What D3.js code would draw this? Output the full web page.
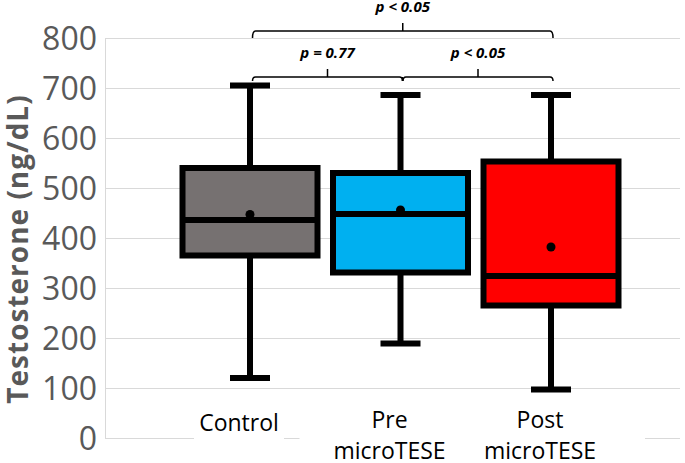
<!DOCTYPE html>
<html>
<head>
<meta charset="utf-8">
<script src="https://cdn.jsdelivr.net/npm/d3@7"></script>
<style>
  body { margin: 0; background: #fff; }
  svg { display: block; font-family: "Open Sans", sans-serif; }
</style>
</head>
<body>
<div id="chart"></div>
<script>
// 数据
const categories = ["Control", "Pre microTESE", "Post microTESE"];
const labelLines = [["Control"], ["Pre", "microTESE"], ["Post", "microTESE"]];
const whiskerLow = [121, 190, 98];
const q1 = [366, 332, 266];
const median = [437, 449, 325];
const q3 = [541, 531, 554];
const whiskerHigh = [706, 687, 687];
const mean = [448, 457, 383];
const colors = ["#767171", "#00B0F0", "#FF0000"];
const yTicks = [0, 100, 200, 300, 400, 500, 600, 700, 800];

// 比较括号
const comparisons = [
  { a: "Control", b: "Pre microTESE", p: "p = 0.77", level: 0 },
  { a: "Pre microTESE", b: "Post microTESE", p: "p < 0.05", level: 0 },
  { a: "Control", b: "Post microTESE", p: "p < 0.05", level: 1 }
];

const width = 685;
const height = 463;
const plotLeft = 105, plotRight = 680;

const svg = d3.select("#chart")
  .append("svg")
  .attr("width", width)
  .attr("height", height);

const x = d3.scalePoint()
  .domain(categories)
  .range([250, 551]);

const y = d3.scaleLinear()
  .domain([0, 800])
  .range([438.5, 38.5]);

// 网格线
svg.append("g")
  .selectAll("line")
  .data(yTicks)
  .enter()
  .append("line")
  .attr("x1", plotLeft)
  .attr("x2", plotRight)
  .attr("y1", d => y(d))
  .attr("y2", d => y(d))
  .attr("stroke", "#d9d9d9")
  .attr("stroke-width", 1);

svg.append("line")
  .attr("x1", plotLeft + 0.5)
  .attr("x2", plotLeft + 0.5)
  .attr("y1", y(800))
  .attr("y2", y(0))
  .attr("stroke", "#d9d9d9");

// Y轴刻度标签
svg.append("g")
  .selectAll("text")
  .data(yTicks)
  .enter()
  .append("text")
  .attr("x", 97)
  .attr("y", d => y(d))
  .attr("dy", "0.36em")
  .attr("text-anchor", "end")
  .attr("fill", "#595959")
  .attr("font-size", 32)
  .text(d => d);

// Y轴标题
svg.append("text")
  .attr("transform", "translate(28,249) rotate(-90)")
  .attr("text-anchor", "middle")
  .attr("fill", "#595959")
  .attr("font-size", 28)
  .attr("font-weight", "bold")
  .attr("letter-spacing", 1)
  .text("Testosterone (ng/dL)");

// X轴类别标签 (白色背景遮住底线)
const labelBoxW = [90, 180, 210];
svg.append("g")
  .selectAll("rect")
  .data(categories)
  .enter()
  .append("rect")
  .attr("x", (d, i) => x(d) - 11 - labelBoxW[i] / 2)
  .attr("y", 410)
  .attr("width", (d, i) => labelBoxW[i])
  .attr("height", 53)
  .attr("fill", "#fff");

const labelG = svg.append("g")
  .selectAll("g")
  .data(categories)
  .enter()
  .append("g")
  .attr("transform", d => "translate(" + (x(d) - 11) + ",0)");

labelG.each(function (d, i) {
  const lines = labelLines[i];
  d3.select(this).selectAll("text")
    .data(lines)
    .enter()
    .append("text")
    .attr("x", 0)
    .attr("y", (l, j) => (lines.length === 1 ? 431 : 428) + j * 31)
    .attr("text-anchor", "middle")
    .attr("fill", "#000")
    .attr("font-size", 23)
    .text(l => l);
});

// 箱线图
const boxW = 135;
const capW = 40;
const idx = categories.map((c, i) => i);
const boxes = svg.append("g")
  .selectAll("g")
  .data(idx)
  .enter()
  .append("g");

// 须
boxes.append("line")
  .attr("x1", i => x(categories[i]))
  .attr("x2", i => x(categories[i]))
  .attr("y1", i => y(whiskerHigh[i]))
  .attr("y2", i => y(whiskerLow[i]))
  .attr("stroke", "#000")
  .attr("stroke-width", 6);

boxes.selectAll(".cap")
  .data(i => [[i, whiskerHigh[i]], [i, whiskerLow[i]]])
  .enter()
  .append("line")
  .attr("x1", d => x(categories[d[0]]) - capW / 2)
  .attr("x2", d => x(categories[d[0]]) + capW / 2)
  .attr("y1", d => y(d[1]))
  .attr("y2", d => y(d[1]))
  .attr("stroke", "#000")
  .attr("stroke-width", 6);

// 箱体
boxes.append("rect")
  .attr("x", i => x(categories[i]) - boxW / 2)
  .attr("y", i => y(q3[i]))
  .attr("width", boxW)
  .attr("height", i => y(q1[i]) - y(q3[i]))
  .attr("fill", i => colors[i])
  .attr("stroke", "#000")
  .attr("stroke-width", 6);

// 中位数
boxes.append("line")
  .attr("x1", i => x(categories[i]) - boxW / 2)
  .attr("x2", i => x(categories[i]) + boxW / 2)
  .attr("y1", i => y(median[i]))
  .attr("y2", i => y(median[i]))
  .attr("stroke", "#000")
  .attr("stroke-width", 6);

// 均值点
boxes.append("circle")
  .attr("cx", i => x(categories[i]))
  .attr("cy", i => y(mean[i]))
  .attr("r", 4.5)
  .attr("fill", "#000");

// 显著性括号
const levelY = [77, 31];
const bracketG = svg.append("g")
  .attr("fill", "none")
  .attr("stroke", "#000")
  .attr("stroke-width", 1.5);

comparisons.forEach(c => {
  const x1 = x(c.a) + 2.5;
  const x2 = x(c.b) + 2;
  const ly = levelY[c.level];
  const drop = c.level === 0 ? 4 : 7;
  const mid = (x1 + x2) / 2;
  const p = d3.path();
  p.moveTo(x1, ly + drop);
  p.quadraticCurveTo(x1, ly, x1 + 3, ly);
  p.lineTo(x2 - 3, ly);
  p.quadraticCurveTo(x2, ly, x2, ly + drop);
  p.moveTo(mid, ly);
  p.lineTo(mid, ly - 8);
  bracketG.append("path").attr("d", p.toString());

  svg.append("text")
    .attr("x", mid)
    .attr("y", ly - 19)
    .attr("text-anchor", "middle")
    .attr("font-size", 15)
    .attr("font-weight", "bold")
    .attr("font-style", "italic")
    .attr("fill", "#000")
    .text(c.p);
});

// 中间的向下刻度
bracketG.append("line")
  .attr("x1", x("Pre microTESE") + 2)
  .attr("x2", x("Pre microTESE") + 2)
  .attr("y1", levelY[0])
  .attr("y2", levelY[0] + 4);
</script>
</body>
</html>
